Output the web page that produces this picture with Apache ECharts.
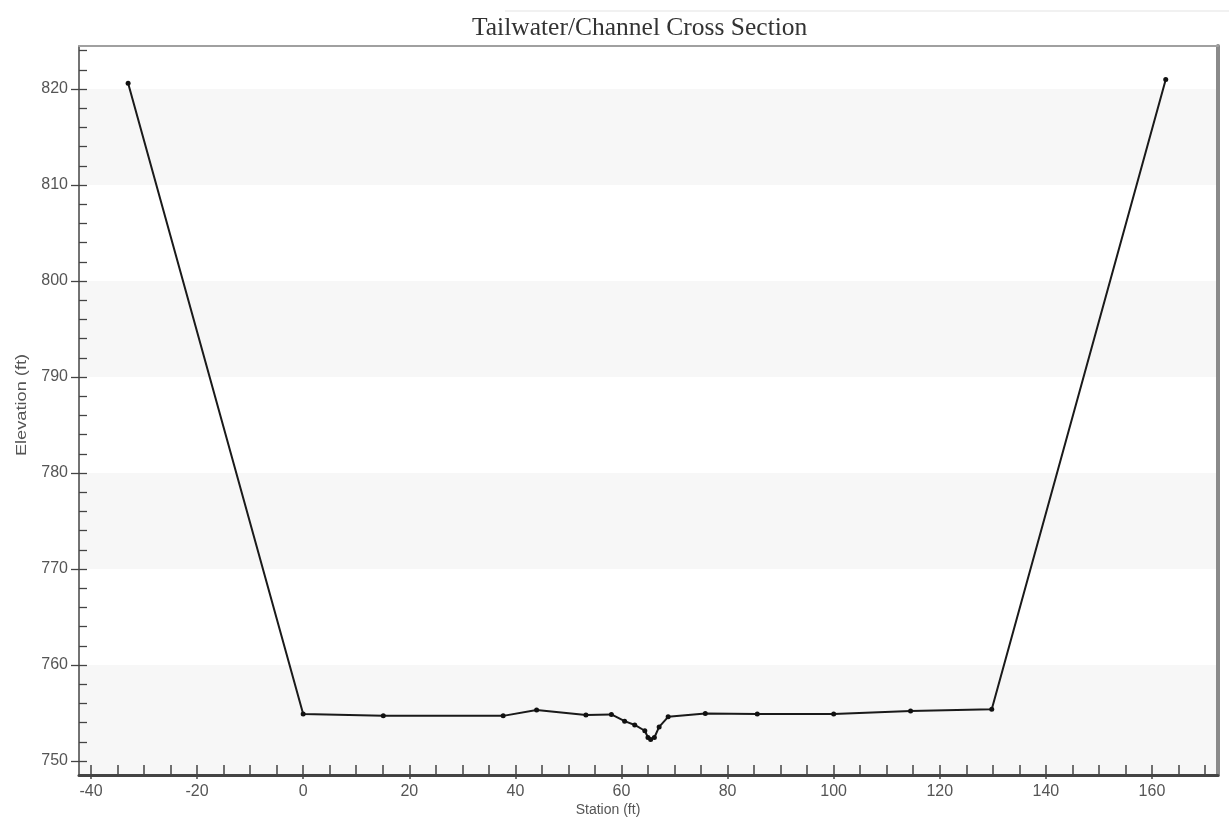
<!DOCTYPE html>
<html>
<head>
<meta charset="utf-8">
<script src="https://cdn.jsdelivr.net/npm/echarts@6/dist/echarts.min.js"></script>
<style>html,body{margin:0;padding:0;background:#fff;}#chart{width:1229px;height:820px;}</style>
</head>
<body>
<div id="chart"></div>
<script>
// ---- data ----
var stations   = [-33.0, 0.0, 15.1, 37.7, 44.0, 53.3, 58.1, 60.6, 62.5, 64.4, 65.0, 65.5, 66.2, 67.1, 68.8, 75.8, 85.6, 100.0, 114.5, 129.8, 162.6];
var elevations = [820.6, 754.9, 754.7, 754.7, 755.3, 754.8, 754.85, 754.15, 753.75, 753.15, 752.45, 752.25, 752.45, 753.55, 754.6, 754.95, 754.9, 754.9, 755.2, 755.4, 821.0];

var xMajorTicks = [-40, -20, 0, 20, 40, 60, 80, 100, 120, 140, 160];
var xMinorTicks = [-40, -35, -30, -25, -20, -15, -10, -5, 0, 5, 10, 15, 20, 25, 30, 35, 40, 45, 50, 55, 60, 65, 70, 75, 80, 85, 90, 95, 100, 105, 110, 115, 120, 125, 130, 135, 140, 145, 150, 155, 160, 165, 170];
var yMajorTicks = [750, 760, 770, 780, 790, 800, 810, 820];
var yMinorTicks = [750, 752, 754, 756, 758, 760, 762, 764, 766, 768, 770, 772, 774, 776, 778, 780, 782, 784, 786, 788, 790, 792, 794, 796, 798, 800, 802, 804, 806, 808, 810, 812, 814, 816, 818, 820, 822, 824];

var titleText = 'Tailwater/Channel Cross Section';
var xName = 'Station (ft)';
var yName = 'Elevation (ft)';

var X_MIN = -42.26, X_MAX = 172.45;
var Y_MIN = 748.54, Y_MAX = 824.48;

var points = stations.map(function (s, i) { return [s, elevations[i]]; });

// alternating grey bands, starting from the bottom of the axis
var bands = [];
var bandEdges = [Y_MIN].concat(yMajorTicks.slice(1));
for (var i = 0; i + 1 < bandEdges.length; i += 2) {
  bands.push([{ yAxis: bandEdges[i] }, { yAxis: bandEdges[i + 1] }]);
}

var chart = echarts.init(document.getElementById('chart'), null, { renderer: 'canvas' });
var labelStyle = { color: '#555', fontSize: 16, fontFamily: 'Liberation Sans, Arial, sans-serif' };

chart.setOption({
  animation: false,
  backgroundColor: '#ffffff',
  title: {
    text: titleText,
    left: 467, top: 10,
    textStyle: { fontFamily: 'Liberation Serif, Times New Roman, serif', fontWeight: 'normal', fontSize: 25.5, color: '#333' }
  },
  grid: { left: 79, right: 11, top: 46, bottom: 45, containLabel: false },
  xAxis: [
    {
      type: 'value', position: 'bottom', min: X_MIN, max: X_MAX, z: 10,
      axisLine: { show: true, onZero: false, lineStyle: { color: '#444', width: 3 } },
      axisTick: { show: true, inside: true, length: 10, customValues: xMinorTicks, lineStyle: { color: '#444', width: 1.5 } },
      axisLabel: Object.assign({ customValues: xMajorTicks, margin: 9 }, labelStyle),
      splitLine: { show: false }
    },
    {
      type: 'value', position: 'bottom', min: X_MIN, max: X_MAX, z: 10,
      axisLine: { show: false, onZero: false },
      axisTick: { show: true, inside: false, length: 4, customValues: xMajorTicks, lineStyle: { color: '#444', width: 1.5 } },
      axisLabel: { show: false },
      splitLine: { show: false }
    },
    {
      type: 'value', position: 'top', min: X_MIN, max: X_MAX, z: 10,
      axisLine: { show: true, onZero: false, lineStyle: { color: '#a0a0a0', width: 2 } },
      axisTick: { show: false }, axisLabel: { show: false }, splitLine: { show: false }
    }
  ],
  yAxis: [
    {
      type: 'value', position: 'left', min: Y_MIN, max: Y_MAX, z: 10,
      axisLine: { show: true, onZero: false, lineStyle: { color: '#444', width: 1.5 } },
      axisTick: { show: true, inside: true, length: 8, customValues: yMinorTicks, lineStyle: { color: '#444', width: 1.3 } },
      axisLabel: Object.assign({ customValues: yMajorTicks, margin: 11 }, labelStyle),
      splitLine: { show: false }
    },
    {
      type: 'value', position: 'left', min: Y_MIN, max: Y_MAX, z: 10,
      axisLine: { show: false, onZero: false },
      axisTick: { show: true, inside: false, length: 8, customValues: yMajorTicks, lineStyle: { color: '#444', width: 1.3 } },
      axisLabel: { show: false },
      splitLine: { show: false }
    },
    {
      type: 'value', position: 'right', min: Y_MIN, max: Y_MAX, z: 10,
      axisLine: { show: true, onZero: false, lineStyle: { color: '#8a8a8a', width: 4 } },
      axisTick: { show: false }, axisLabel: { show: false }, splitLine: { show: false }
    }
  ],
  graphic: [
    {
      type: 'text', x: 608, y: 810,
      style: { text: xName, fill: '#555', font: '14px "Liberation Sans", Arial, sans-serif', textAlign: 'center', textVerticalAlign: 'middle' }
    },
    {
      type: 'text', x: 22, y: 405, rotation: Math.PI / 2, scaleX: 1.3,
      style: { text: yName, fill: '#555', font: '14px "Liberation Sans", Arial, sans-serif', textAlign: 'center', textVerticalAlign: 'middle' }
    },
    {
      type: 'line', shape: { x1: 505, y1: 11, x2: 1229, y2: 11 },
      style: { stroke: '#ececec', lineWidth: 1.5 }, silent: true
    }
  ],
  series: [
    {
      type: 'line',
      xAxisIndex: 0, yAxisIndex: 0,
      data: points,
      symbol: 'circle', symbolSize: 5,
      itemStyle: { color: '#111' },
      lineStyle: { color: '#1a1a1a', width: 2 },
      z: 5,
      markArea: {
        silent: true,
        itemStyle: { color: '#f7f7f7' },
        data: bands
      }
    }
  ]
});
</script>
</body>
</html>
